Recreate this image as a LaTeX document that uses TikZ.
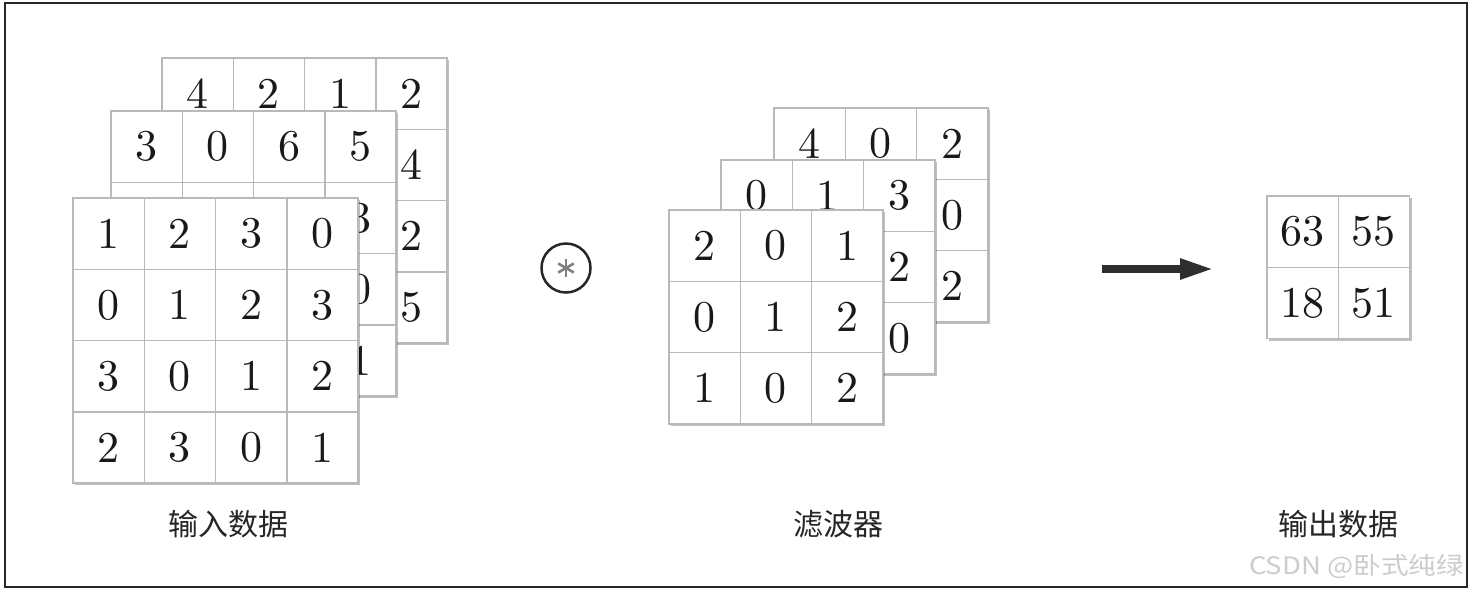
\documentclass[tikz,border=0pt]{standalone}
\usepackage{fontspec}
\usetikzlibrary{arrows.meta,shadows}
\newfontfamily\cjk{Noto Sans CJK SC}
\newfontfamily\digitfont{lmroman10-regular.otf}
\def\cs{71.3}
\tikzset{
  cell/.style={draw=gray!55, line width=1.5pt, minimum size=\cs pt, inner sep=0pt,
    font=\digitfont\fontsize{44}{44}\selectfont, text=black!90},
  layerbg/.style={fill=white, drop shadow={shadow xshift=2pt, shadow yshift=-2pt, opacity=0.25, fill=black}},
  caption/.style={font=\cjk\fontsize{30}{30}\selectfont, text=black!85},
}
\newcommand\gridlayer[6]{%
  \fill[layerbg] (#2,#3) rectangle ++(#4*\cs, #5*\cs);
  \foreach \v [count=\i from 0] in {#6} {
    \pgfmathtruncatemacro\rr{floor(\i/#4)}
    \pgfmathtruncatemacro\cc{mod(\i,#4)}
    \node[cell] (#1-\rr-\cc) at ({#2+(\cc+0.5)*\cs},{#3+(\rr+0.5)*\cs}) {\v};
  }%
}
\begin{document}
\begin{tikzpicture}[x=1pt,y=-1pt]
\useasboundingbox (0,0) rectangle (1471,592);
\fill[white] (0,0) rectangle (1471,592);
\draw[line width=2pt, black!85] (5,3) rectangle (1467,587);

% input data
\gridlayer{inA}{162}{58}{4}{4}{4,2,1,2,{},{},{},4,{},{},{},2,{},{},{},5}
\gridlayer{inB}{111}{111}{4}{4}{3,0,6,5,{},{},{},3,{},{},{},0,{},{},{},1}
\gridlayer{inC}{73}{198}{4}{4}{1,2,3,0,0,1,2,3,3,0,1,2,2,3,0,1}

% filter
\gridlayer{fA}{774}{108}{3}{3}{4,0,2,{},{},0,{},{},2}
\gridlayer{fB}{721}{160}{3}{3}{0,1,3,{},{},2,{},{},0}
\gridlayer{fC}{669}{210}{3}{3}{2,0,1,0,1,2,1,0,2}

% output
\gridlayer{out}{1267}{196}{2}{2}{63,55,18,51}

% operator
\node[circle, draw=black!85, line width=2.5pt, minimum size=49pt, inner sep=0pt] (op) at (566,268) {};
\foreach \a in {90,30,150}
  \draw[gray, line width=2.6pt] ([shift={(\a:-9pt)}]op.center) -- ([shift={(\a:9pt)}]op.center);

% arrow
\coordinate (a1) at (1102,269);
\coordinate (a2) at (1214,269);
\draw[line width=8pt, black!82, -{Triangle[length=34pt,width=19pt]}] (a1) -- (a2);

% captions
\node[caption] (capIn) at (228,524) {输入数据};
\node[caption] (capF) at (838,524) {滤波器};
\node[caption] (capOut) at (1338,524) {输出数据};

% watermark
\node[font=\cjk\fontsize{24}{24}\selectfont, text=black!20, anchor=east, xscale=1.15] (wm) at (1468,566) {CSDN @卧式纯绿};
\end{tikzpicture}
\end{document}
